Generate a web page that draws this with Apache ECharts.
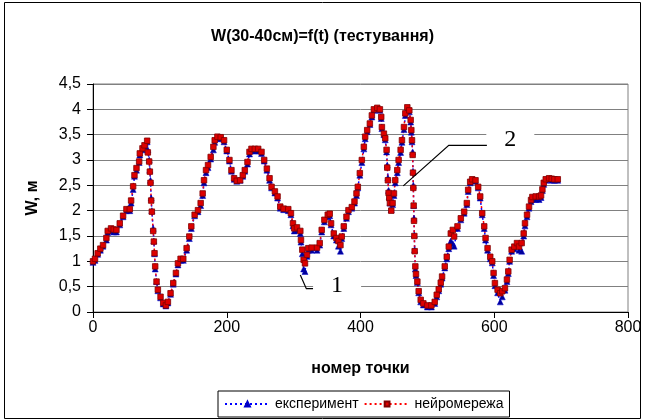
<!DOCTYPE html>
<html>
<head>
<meta charset="utf-8">
<script src="https://cdn.jsdelivr.net/npm/echarts@6/dist/echarts.min.js"></script>
<style>
html,body{margin:0;padding:0;background:#fff;}
#c{width:645px;height:419px;}
</style>
</head>
<body>
<div id="c"></div>
<script>
// ---- data ----
const titleText = 'W(30-40см)=f(t) (тестування)';
const xName = 'номер точки';
const yName = 'W, м';
const seriesNames = ['експеримент', 'нейромережа'];
const xTicks = [0, 200, 400, 600, 800];
const yTicks = ['0','0,5','1','1,5','2','2,5','3','3,5','4','4,5'];

const xs = [0,3,7,11,15,20,22,27,31,35,40,45,50,55,57,60,62,65,69,70,74,77,81,82,84,85,86,87,88,90,91,92,93,95,97,101,105,109,112,116,120,124,127,131,135,140,144,147,152,157,161,164,166,169,172,176,180,182,186,191,196,200,204,207,211,215,220,224,227,231,234,237,242,247,252,256,260,264,267,272,276,280,285,292,296,299,301,305,310,311,313,315,317,320,322,327,335,339,342,346,351,354,356,360,364,367,370,372,375,379,382,387,391,394,396,399,402,405,407,410,414,417,420,425,429,431,432,435,437,439,440,441,442,443,444,446,448,450,452,455,457,460,462,465,467,470,473,475,476,477,478,478.5,479,479.5,480,480.5,481,482,483,485,487,490,494,500,506,511,514,517,520,522,526,529,532,535,538,540,545,550,555,559,561,564,567,572,576,579,582,585,587,590,594,597,599,601,605,609,612,616,619,621,623,626,630,634,637,641,644,646,649,652,655,657,662,667,670,672,674,677,682,686,690,695];

const expY = [0.98,1.02,1.14,1.22,1.3,1.42,1.57,1.6,1.58,1.58,1.72,1.88,2.0,2.0,2.15,2.42,2.68,2.8,2.95,3.1,3.2,3.27,3.36,3.2,3.0,2.8,2.6,2.25,2.0,1.65,1.4,1.15,0.85,0.6,0.42,0.28,0.16,0.12,0.18,0.35,0.55,0.75,0.93,1.02,1.02,1.22,1.45,1.65,1.9,1.98,2.1,2.3,2.55,2.75,2.85,3.02,3.2,3.35,3.43,3.42,3.36,3.18,2.98,2.78,2.62,2.58,2.6,2.68,2.78,2.92,3.12,3.18,3.18,3.18,3.13,2.98,2.8,2.6,2.45,2.35,2.25,2.05,2.02,2.0,1.92,1.7,1.6,1.62,1.55,1.38,1.15,0.85,0.8,1.1,1.22,1.22,1.22,1.32,1.58,1.78,1.88,1.9,1.72,1.5,1.42,1.3,1.2,1.45,1.65,1.85,1.98,2.05,2.15,2.3,2.45,2.7,2.95,3.22,3.42,3.56,3.7,3.85,3.98,4.0,3.98,3.82,3.62,3.5,3.4,3.16,2.9,2.65,2.4,2.28,2.15,2.02,2.12,2.3,2.55,2.75,2.95,3.15,3.35,3.6,3.88,4.0,3.95,3.75,3.55,3.36,3.16,2.78,2.5,2.1,1.85,1.52,1.23,0.85,0.72,0.58,0.38,0.2,0.14,0.1,0.1,0.17,0.3,0.42,0.55,0.67,0.87,1.05,1.25,1.4,1.35,1.3,1.65,1.82,1.95,2.12,2.38,2.55,2.6,2.58,2.45,2.25,1.92,1.65,1.42,1.22,1.05,0.97,0.72,0.52,0.38,0.2,0.3,0.43,0.6,0.76,1.0,1.2,1.25,1.32,1.22,1.2,1.5,1.7,1.88,2.05,2.18,2.22,2.22,2.22,2.26,2.4,2.52,2.6,2.62,2.6,2.6,2.6];

const nnY = [1.0,1.05,1.16,1.25,1.32,1.46,1.6,1.65,1.63,1.62,1.75,1.9,2.03,2.03,2.2,2.48,2.7,2.84,2.97,3.13,3.23,3.29,3.38,3.15,2.97,2.77,2.55,2.2,1.98,1.6,1.39,1.16,0.9,0.6,0.44,0.3,0.18,0.13,0.2,0.37,0.57,0.77,0.96,1.05,1.05,1.26,1.49,1.69,1.92,2.01,2.15,2.34,2.6,2.8,2.9,3.06,3.26,3.39,3.46,3.45,3.39,3.2,3.0,2.8,2.64,2.59,2.6,2.7,2.8,2.96,3.16,3.22,3.22,3.22,3.16,3.0,2.83,2.64,2.47,2.38,2.28,2.08,2.04,2.03,1.95,1.75,1.65,1.67,1.6,1.42,1.23,1.03,0.96,1.13,1.26,1.27,1.27,1.36,1.62,1.82,1.92,1.94,1.75,1.55,1.46,1.4,1.32,1.49,1.69,1.88,2.01,2.07,2.18,2.34,2.47,2.74,3.0,3.26,3.46,3.59,3.72,3.88,4.0,4.03,4.0,3.85,3.65,3.52,3.43,3.2,2.85,2.6,2.35,2.25,2.15,2.0,2.15,2.34,2.6,2.8,3.0,3.2,3.39,3.65,3.92,4.04,3.98,3.79,3.59,3.39,3.1,2.75,2.45,2.1,1.8,1.5,1.2,0.9,0.75,0.6,0.41,0.24,0.17,0.13,0.13,0.2,0.34,0.45,0.58,0.7,0.9,1.09,1.29,1.55,1.62,1.49,1.69,1.85,1.98,2.15,2.41,2.57,2.62,2.6,2.47,2.28,1.95,1.69,1.46,1.26,1.09,1.0,0.77,0.57,0.44,0.37,0.41,0.47,0.64,0.8,1.03,1.23,1.29,1.36,1.29,1.36,1.55,1.75,1.92,2.08,2.21,2.27,2.28,2.28,2.3,2.42,2.55,2.62,2.64,2.63,2.62,2.62];

// annotation anchors (data units)
const ann1 = {text:'1', line:[[310,0.73],[319,0.46],[329,0.46]], at:[365,0.52]};
const ann2 = {text:'2', line:[[464,2.49],[532,3.29],[589,3.29]], at:[624,3.4]};

// ---- chart ----
const chart = echarts.init(document.getElementById('c'), null, {renderer:'canvas'});
const FONT = '"Liberation Sans", Arial, sans-serif';

function pairs(ys){ return xs.map((x,i)=>[x, ys[i]]); }

const option = {
  animation: false,
  backgroundColor: '#fff',
  textStyle: {fontFamily: FONT},
  title: {
    text: titleText, left: 'center', top: 24,
    textStyle: {fontFamily: FONT, fontSize: 16, fontWeight: 'bold', color: '#000'}
  },
  grid: {left: 93, right: 17, top: 84, bottom: 107, show: true, borderColor: '#808080', borderWidth: 1, backgroundColor: '#fff'},
  xAxis: {
    type: 'value', min: xTicks[0], max: xTicks[xTicks.length-1], interval: xTicks[1]-xTicks[0],
    name: xName, nameLocation: 'middle', nameGap: 49,
    nameTextStyle: {fontFamily: FONT, fontSize: 16, fontWeight: 'bold', color: '#000'},
    axisLine: {show: true, onZero: false, lineStyle: {color: '#000', width: 1}},
    axisTick: {show: true, inside: false, length: 6, lineStyle: {color: '#000'}},
    axisLabel: {fontFamily: FONT, fontSize: 16, color: '#000', margin: 8},
    splitLine: {show: false}
  },
  yAxis: {
    type: 'value', min: 0, max: 4.5, interval: 0.5,
    name: yName, nameLocation: 'middle', nameGap: 52, nameRotate: 90,
    nameTextStyle: {fontFamily: FONT, fontSize: 16, fontWeight: 'bold', color: '#000'},
    axisLine: {show: true, lineStyle: {color: '#000', width: 1}},
    axisTick: {show: true, inside: false, length: 6, lineStyle: {color: '#000'}},
    axisLabel: {fontFamily: FONT, fontSize: 16, color: '#000', margin: 12,
      formatter: (v) => yTicks[Math.round(v/0.5)] },
    splitLine: {show: true, lineStyle: {color: '#808080', width: 1}}
  },
  legend: {
    data: seriesNames, bottom: 2, left: 218,
    borderColor: '#000', borderWidth: 1, padding: [6, 6], itemGap: 5,
    itemWidth: 45, itemHeight: 6,
    textStyle: {fontFamily: FONT, fontSize: 14, color: '#000'}
  },
  series: [
    {
      name: seriesNames[0], type: 'line', data: pairs(expY),
      symbol: 'triangle', symbolSize: 6, showSymbol: true,
      lineStyle: {color: '#0000ff', width: 1.5, type: [2, 3]},
      itemStyle: {color: '#000099', borderColor: '#0000cc', borderWidth: 0.5}
    },
    {
      name: seriesNames[1], type: 'line', data: pairs(nnY),
      symbol: 'rect', symbolSize: 5.5, showSymbol: true,
      lineStyle: {color: '#ff0000', width: 1.5, type: [2, 3]},
      itemStyle: {color: '#dd0000', borderColor: '#800000', borderWidth: 0.8}
    }
  ]
};
chart.setOption(option);

function buildAnn(a){
  const pts = a.line.map(p => chart.convertToPixel({gridIndex: 0}, p));
  const tp = chart.convertToPixel({gridIndex: 0}, a.at);
  return [
    {type: 'rect', shape: {x: tp[0]-24, y: tp[1]-11, width: 48, height: 22}, style: {fill: '#fff'}, z: 50},
    {type: 'text', x: tp[0], y: tp[1], style: {text: a.text, fontFamily: '"Liberation Serif", "Times New Roman", serif', fontSize: 24, fill: '#000', align: 'center', verticalAlign: 'middle'}, z: 51},
    {type: 'polyline', shape: {points: pts}, style: {stroke: '#000', lineWidth: 1.2, fill: null}, z: 52}
  ];
}
chart.setOption({
  graphic: [
    {type: 'rect', shape: {x: 4.5, y: 2.5, width: 636, height: 416}, style: {fill: null, stroke: '#000', lineWidth: 1}, z: 100},
    ...buildAnn(ann1), ...buildAnn(ann2)
  ]
});
</script>
</body>
</html>
